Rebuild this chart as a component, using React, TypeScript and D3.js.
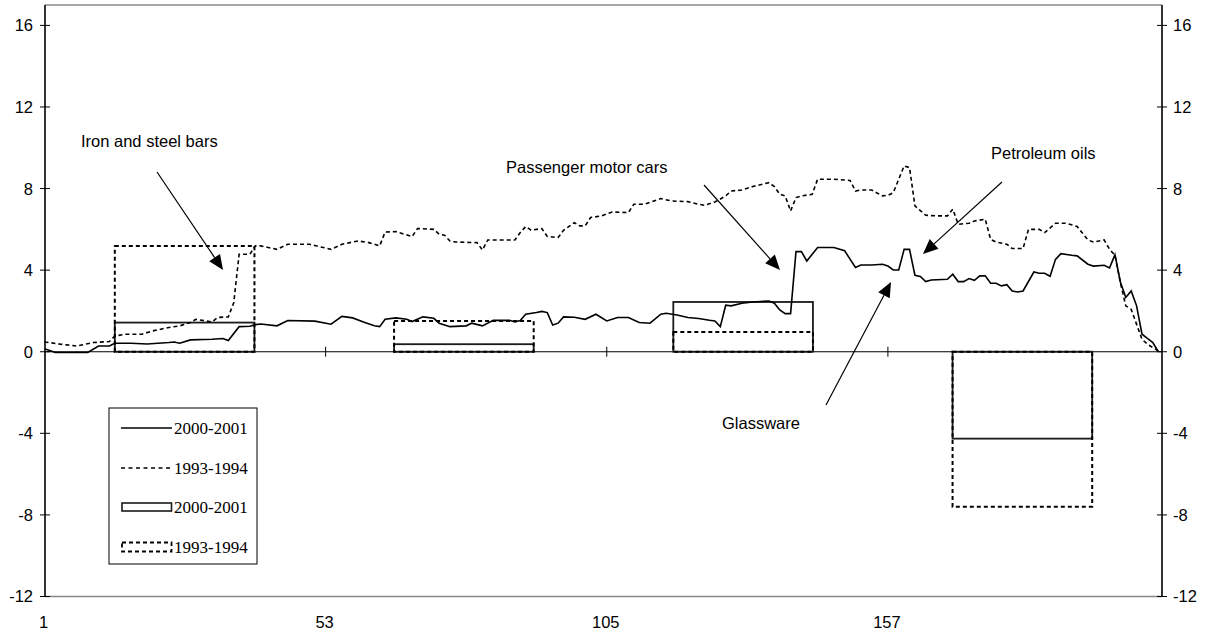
import React from "react";
import * as d3 from "d3";

// ---- data ----
const yTicks = [-12, -8, -4, 0, 4, 8, 12, 16];
const xTickLabels = [1, 53, 105, 157];

// line series: [category index, value] vertices
const line2000: [number, number][] = [
  [1,0.15],[3,-0.04],[9,-0.04],[11,0.28],[13,0.28],[14,0.42],[17,0.42],[20,0.38],[24,0.45],[25,0.48],[26,0.42],[28,0.58],[32,0.61],[34,0.65],[35,0.55],[37,1.23],[39,1.25],[40,1.33],[41,1.36],[44,1.27],[46,1.53],[51,1.5],[54,1.35],[56,1.73],[58,1.66],[60,1.46],[62,1.27],[63,1.23],[64,1.59],[66,1.66],[68,1.59],[69,1.48],[71,1.71],[73,1.64],[74,1.4],[76,1.23],[79,1.27],[80,1.4],[82,1.27],[84,1.54],[87,1.54],[88,1.46],[89,1.53],[90,1.84],[92,1.92],[93,1.98],[94,1.92],[95,1.31],[96,1.4],[97,1.71],[99,1.69],[101,1.59],[103,1.84],[105,1.51],[107,1.68],[109,1.68],[111,1.43],[113,1.4],[115,1.84],[116,1.89],[118,1.8],[120,1.68],[122,1.63],[124,1.54],[125,1.51],[126,1.23],[127,2.28],[128,2.25],[130,2.38],[132,2.44],[135,2.49],[136,2.38],[137,2.05],[138,1.87],[139,1.87],[140,4.91],[141,4.91],[142,4.45],[144,5.11],[147,5.11],[149,4.95],[151,4.13],[152,4.25],[154,4.25],[156,4.29],[157,4.2],[158,4.01],[159,4.01],[160,5.02],[161,5.02],[162,3.75],[163,3.69],[164,3.44],[165,3.52],[168,3.55],[169,3.8],[170,3.44],[171,3.44],[172,3.59],[173,3.5],[174,3.72],[175,3.72],[176,3.36],[177,3.36],[178,3.23],[179,3.29],[180,2.98],[181,2.93],[182,2.98],[184,3.91],[185,3.85],[186,3.85],[187,3.7],[188,4.53],[189,4.81],[191,4.73],[192,4.7],[194,4.29],[195,4.2],[197,4.24],[198,4.11],[199,4.76],[200,3.42],[201,2.66],[202,2.98],[203,2.25],[204,0.86],[205,0.65],[206,0.45],[207,0.01]
];
const line1993: [number, number][] = [
  [1,0.48],[4,0.37],[7,0.28],[10,0.45],[13,0.5],[14,0.77],[16,0.86],[19,0.86],[21,1.02],[24,1.19],[26,1.27],[28,1.43],[29,1.59],[32,1.46],[33,1.68],[35,1.71],[36,2.4],[37,4.78],[39,4.78],[40,5.19],[41,5.19],[44,5.02],[46,5.27],[50,5.27],[54,5.02],[56,5.27],[59,5.43],[61,5.35],[63,5.19],[64,5.87],[66,5.89],[69,5.65],[70,6.04],[73,6.0],[74,5.76],[75,5.71],[76,5.43],[77,5.38],[81,5.35],[82,4.99],[83,5.48],[88,5.48],[89,5.84],[90,6.14],[91,5.96],[93,6.04],[94,5.65],[96,5.6],[97,5.95],[99,6.33],[100,6.17],[101,6.17],[102,6.58],[104,6.66],[106,6.85],[109,6.82],[110,7.23],[112,7.23],[115,7.51],[117,7.39],[120,7.36],[122,7.23],[123,7.18],[125,7.34],[127,7.64],[128,7.88],[130,7.93],[132,8.1],[133,8.16],[135,8.29],[136,8.1],[137,7.72],[138,7.64],[139,6.9],[140,7.56],[141,7.64],[143,7.72],[144,8.46],[147,8.46],[150,8.4],[151,7.88],[152,7.93],[154,7.93],[156,7.64],[157,7.67],[158,7.8],[160,9.11],[161,9.03],[162,7.15],[164,6.69],[166,6.66],[168,6.66],[169,6.99],[170,6.25],[172,6.3],[173,6.41],[175,6.5],[176,5.51],[177,5.38],[179,5.27],[180,5.06],[182,5.06],[183,6.0],[185,6.0],[186,5.84],[188,6.3],[190,6.3],[192,6.14],[194,5.48],[195,5.38],[197,5.48],[198,5.02],[199,4.73],[200,3.39],[201,2.25],[202,2.08],[204,0.61],[205,0.37],[207,0.04]
];

// bar series (4 product groups)
const barGroups = ["G1", "G2", "G3", "G4"];
const bar2000 = [1.43, 0.37, 2.44, -4.26];
const bar1993 = [5.19, 1.51, 0.97, -7.6];

const legendLabels = ["2000-2001", "1993-1994", "2000-2001", "1993-1994"];

// annotations: text and arrow in data-free pixel layout
const annotations = [
  { text: "Iron and steel bars", tx: 81, ty: 146.5, from: [157, 172], to: [223, 270] },
  { text: "Passenger motor cars", tx: 506, ty: 173, from: [704, 185], to: [780, 270] },
  { text: "Petroleum oils", tx: 991, ty: 159, from: [1002, 182], to: [923, 254] },
  { text: "Glassware", tx: 722, ty: 429, from: [826, 405], to: [891, 282] },
];

const W = 1212, H = 634;
const L = 45, R = 1162, T = 5, B = 596.5;
const SANS = "'Liberation Sans', Arial, sans-serif";
const SERIF = "'Liberation Serif', 'Times New Roman', serif";
const FS = 16.5;

function Arrow({ from, to }: { from: number[]; to: number[] }) {
  const dx = to[0] - from[0], dy = to[1] - from[1];
  const len = Math.hypot(dx, dy);
  const ux = dx / len, uy = dy / len;
  const hl = 15, hw = 6.5;
  const bx = to[0] - ux * hl, by = to[1] - uy * hl;
  const px = -uy, py = ux;
  const pts = [
    [to[0], to[1]],
    [bx + px * hw, by + py * hw],
    [bx - px * hw, by - py * hw],
  ];
  return (
    <g>
      <line x1={from[0]} y1={from[1]} x2={bx} y2={by} stroke="#000" strokeWidth={1.2} />
      <polygon points={pts.map((p) => p.join(",")).join(" ")} fill="#000" />
    </g>
  );
}

export default function App() {
  const y = d3.scaleLinear().domain([-12, 17]).range([B, T]);
  const x = d3.scaleLinear().domain([1, 207.7]).range([44.5, R]);
  const band = d3.scaleBand<string>().domain(barGroups).range([L, R]).paddingInner(0.5).paddingOuter(0.25);
  const line = d3.line<[number, number]>().x((d) => x(d[0])).y((d) => y(d[1]));
  const y0 = y(0);

  const rect = (v: number, g: string) => {
    const top = Math.min(y(v), y0);
    const h = Math.abs(y(v) - y0);
    return { x: band(g)!, y: top, w: band.bandwidth(), h };
  };

  const legX = 109, legY = 408, legW = 148, legH = 156;
  const legRows = [428, 468, 507, 547];

  return (
    <svg width={W} height={H} style={{ position: "absolute", left: 0, top: 0, background: "#fff" }}>
      <rect x={0} y={0} width={W} height={H} fill="#fff" />
      {/* plot frame */}
      <line x1={L} x2={R} y1={T} y2={T} stroke="#888" strokeWidth={1.5} />
      <line x1={L} x2={R} y1={B} y2={B} stroke="#888" strokeWidth={1.5} />
      <line x1={L} x2={L} y1={T} y2={B} stroke="#333" strokeWidth={2} />
      <line x1={R} x2={R} y1={T} y2={B} stroke="#333" strokeWidth={2} />
      {/* y ticks & labels both sides */}
      {yTicks.map((t) => (
        <g key={t}>
          <line x1={L - 5} x2={L + 5} y1={y(t)} y2={y(t)} stroke="#000" strokeWidth={1} />
          <line x1={R - 5} x2={R + 5} y1={y(t)} y2={y(t)} stroke="#000" strokeWidth={1} />
          <text x={33} y={y(t)} dy="0.36em" textAnchor="end" fontFamily={SANS} fontSize={FS}>{t}</text>
          <text x={1173} y={y(t)} dy="0.36em" textAnchor="start" fontFamily={SANS} fontSize={FS}>{t}</text>
        </g>
      ))}
      {/* zero line (category axis) */}
      <line x1={L} x2={R} y1={y0} y2={y0} stroke="#000" strokeWidth={1.2} />
      {xTickLabels.map((t) => (
        <g key={t}>
          {t !== 1 && <line x1={x(t)} x2={x(t)} y1={y0 - 5} y2={y0 + 5} stroke="#000" strokeWidth={1} />}
          <text x={x(t) - 1} y={628} textAnchor="middle" fontFamily={SANS} fontSize={FS}>{t}</text>
        </g>
      ))}
      {/* bars */}
      {barGroups.map((g, i) => {
        const a = rect(bar2000[i], g);
        const b = rect(bar1993[i], g);
        return (
          <g key={g}>
            <rect x={a.x} y={a.y} width={a.w} height={a.h} fill="none" stroke="#1a1a1a" strokeWidth={1.8} />
            <rect x={b.x} y={b.y} width={b.w} height={b.h} fill="none" stroke="#000" strokeWidth={2} strokeDasharray="4,3" />
          </g>
        );
      })}
      {/* lines */}
      <path d={line(line1993)!} fill="none" stroke="#000" strokeWidth={1.6} strokeDasharray="4,3" />
      <path d={line(line2000)!} fill="none" stroke="#000" strokeWidth={1.6} />
      {/* annotations */}
      {annotations.map((a) => (
        <g key={a.text}>
          <text x={a.tx} y={a.ty} fontFamily={SANS} fontSize={FS}>{a.text}</text>
          <Arrow from={a.from} to={a.to} />
        </g>
      ))}
      {/* legend */}
      <rect x={legX} y={legY} width={legW} height={legH} fill="#fff" stroke="#000" strokeWidth={1} />
      <line x1={121} x2={172} y1={legRows[0]} y2={legRows[0]} stroke="#000" strokeWidth={1.6} />
      <line x1={121} x2={172} y1={legRows[1]} y2={legRows[1]} stroke="#000" strokeWidth={1.6} strokeDasharray="4,3.5" />
      <rect x={122} y={legRows[2] - 4} width={49.5} height={8} fill="none" stroke="#1a1a1a" strokeWidth={1.6} />
      <rect x={122} y={legRows[3] - 4.5} width={49.5} height={9} fill="none" stroke="#000" strokeWidth={1.8} strokeDasharray="4,3" />
      {legendLabels.map((l, i) => (
        <text key={i} x={174} y={legRows[i]} dy="0.34em" fontFamily={SERIF} fontSize={FS + 0.5}>{l}</text>
      ))}
    </svg>
  );
}
